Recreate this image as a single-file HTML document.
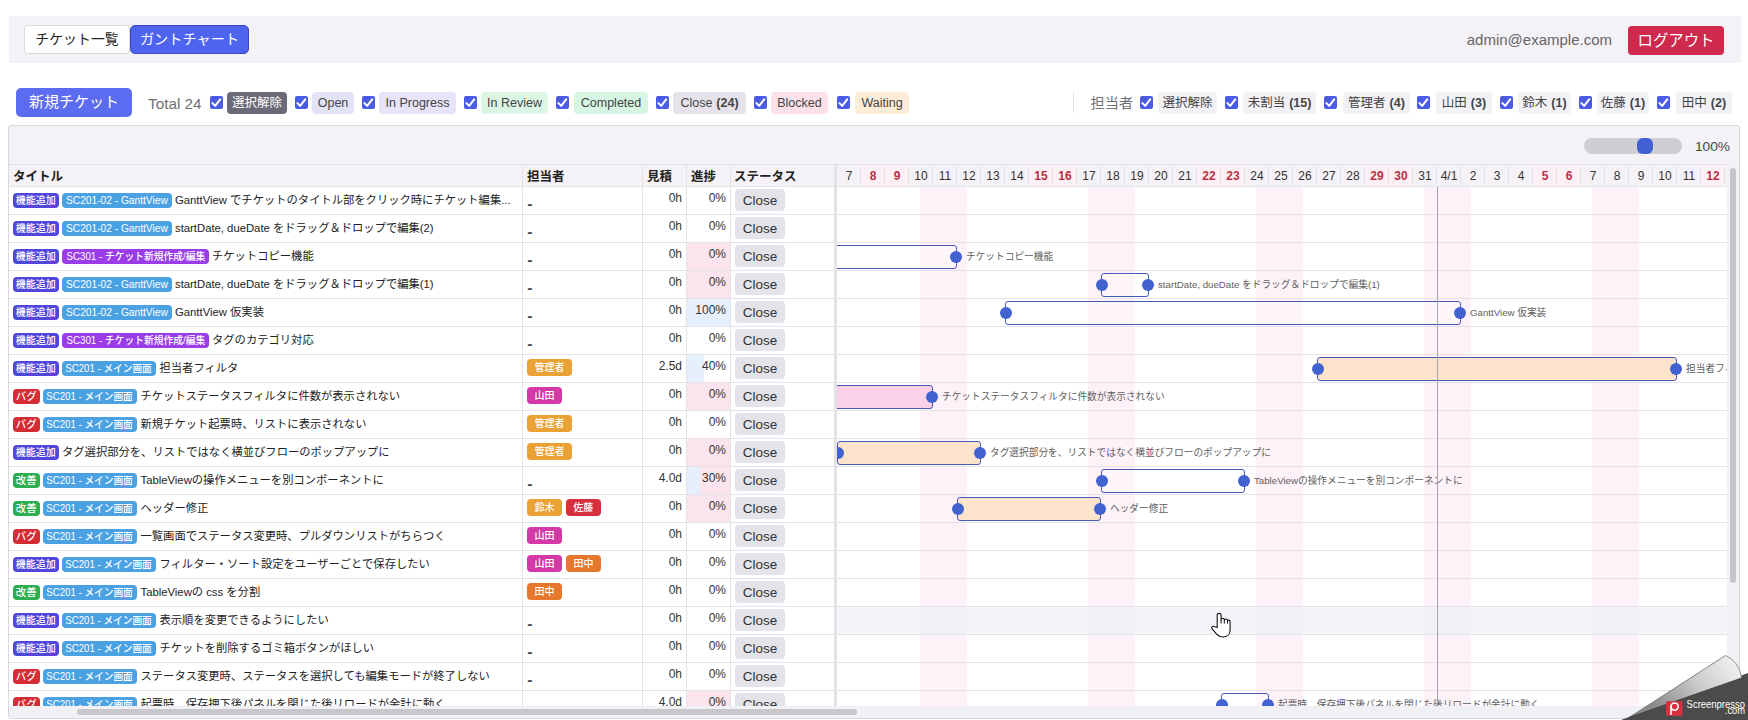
<!DOCTYPE html><html lang="ja"><head><meta charset="utf-8"><title>Gantt</title><style>

*{box-sizing:border-box;margin:0;padding:0}
html,body{width:1748px;height:720px;overflow:hidden;background:#fff;font-family:"Liberation Sans", "Noto Sans CJK JP", sans-serif;color:#333}
.a{position:absolute}
.hdr{left:9px;top:16px;width:1732px;height:47px;background:#f4f2f7}
.btn{position:absolute;display:flex;align-items:center;justify-content:center;white-space:nowrap}
.cb{position:absolute;width:13px;height:13px;background:#4a5ce6;border-radius:2px}
.cb svg{position:absolute;left:0;top:0}
.chip{position:absolute;height:22px;border-radius:4px;font-size:12.5px;display:flex;align-items:center;justify-content:center;white-space:nowrap;color:#444}
.chip b{font-weight:bold;margin-left:4px}
.panel{left:8px;top:125px;width:1732px;height:594px;border:1px solid #d9d8de;border-radius:3px;background:#f4f2f7;overflow:hidden}
.hl{position:absolute;height:1px;background:#e3e2e7}
.vl{position:absolute;width:1px;background:#e3e2e7}
.th{position:absolute;top:167px;font-size:12.5px;font-weight:bold;color:#222;line-height:20px;white-space:nowrap}
.tag{position:absolute;height:15px;border-radius:4px;color:#fff;font-size:10.4px;font-weight:500;line-height:15px;text-align:center;white-space:nowrap;overflow:hidden}
.tag span{display:inline-block}
.atag{position:absolute;height:17px;border-radius:4px;color:#fff;font-size:10px;font-weight:500;line-height:17px;text-align:center;white-space:nowrap}
.ttl{position:absolute;font-size:11.3px;color:#222;line-height:16px;white-space:nowrap}
.num{position:absolute;font-size:12px;color:#333;line-height:14px;text-align:right;white-space:nowrap}
.close{position:absolute;left:735px;width:50px;height:22px;border-radius:4px;background:#e4e3ea;font-size:13.5px;color:#333;line-height:24px;text-align:center}
.day{position:absolute;top:166px;width:24px;text-align:center;font-size:12px;line-height:20px;color:#333}
.we{color:#bc2f45;font-weight:bold}
.bar{position:absolute;height:24px;border:1.5px solid #4759b6;border-radius:3px}
.hd{position:absolute;width:12px;height:12px;border-radius:50%;background:#4262d2}
.lbl{position:absolute;font-size:9.7px;color:#5e5e5e;line-height:14px;white-space:nowrap}

</style></head><body>
<div class="a hdr"></div>
<div class="btn" style="left:24px;top:25px;width:106px;height:29px;background:#fff;border:1px solid #d9d7dd;border-radius:4px;font-size:13.9px;color:#222"><span style="position:relative;top:-1.2px">チケット一覧</span></div>
<div class="btn" style="left:130px;top:25px;width:119px;height:29px;background:#4f64ee;border:1px solid #3747c4;border-radius:5px;font-size:14.2px;color:#fff"><span style="position:relative;top:-1.2px">ガントチャート</span></div>
<div class="a" style="left:1400px;width:212px;top:31px;font-size:15px;line-height:18px;color:#666;text-align:right">admin@example.com</div>
<div class="btn" style="left:1628px;top:26px;width:96px;height:29px;background:#cf2a4d;border-radius:4px;font-size:15.4px;color:#fff"><span style="position:relative;top:-1.6px">ログアウト</span></div>
<div class="btn" style="left:16px;top:88px;width:116px;height:29px;background:#5b6cf0;border-radius:5px;font-size:15px;color:#fff"><span style="position:relative;top:-2.3px">新規チケット</span></div>
<div class="a" style="left:148px;top:94.8px;font-size:15.3px;line-height:17px;color:#6f6f76">Total 24</div>
<div class="cb" style="left:210px;top:96px"><svg width="13" height="13" viewBox="0 0 13 13"><path d="M2.4 7.1 L5.2 9.9 L10.2 3.3" fill="none" stroke="#fff" stroke-width="2" stroke-linecap="round" stroke-linejoin="round"/></svg></div>
<div class="chip" style="left:227px;top:92px;width:60px;background:#6b6a78;color:#fff"><span style="position:relative;top:-1.4px">選択解除</span></div>
<div class="cb" style="left:295px;top:96px"><svg width="13" height="13" viewBox="0 0 13 13"><path d="M2.4 7.1 L5.2 9.9 L10.2 3.3" fill="none" stroke="#fff" stroke-width="2" stroke-linecap="round" stroke-linejoin="round"/></svg></div>
<div class="chip" style="left:312px;top:92px;width:42px;background:#e3e3f7;color:#444">Open</div>
<div class="cb" style="left:362px;top:96px"><svg width="13" height="13" viewBox="0 0 13 13"><path d="M2.4 7.1 L5.2 9.9 L10.2 3.3" fill="none" stroke="#fff" stroke-width="2" stroke-linecap="round" stroke-linejoin="round"/></svg></div>
<div class="chip" style="left:379px;top:92px;width:77px;background:#e7e3f8;color:#444">In Progress</div>
<div class="cb" style="left:464px;top:96px"><svg width="13" height="13" viewBox="0 0 13 13"><path d="M2.4 7.1 L5.2 9.9 L10.2 3.3" fill="none" stroke="#fff" stroke-width="2" stroke-linecap="round" stroke-linejoin="round"/></svg></div>
<div class="chip" style="left:481px;top:92px;width:67px;background:#dcf6e6;color:#444">In Review</div>
<div class="cb" style="left:556px;top:96px"><svg width="13" height="13" viewBox="0 0 13 13"><path d="M2.4 7.1 L5.2 9.9 L10.2 3.3" fill="none" stroke="#fff" stroke-width="2" stroke-linecap="round" stroke-linejoin="round"/></svg></div>
<div class="chip" style="left:574px;top:92px;width:74px;background:#d6f6e3;color:#444">Completed</div>
<div class="cb" style="left:656px;top:96px"><svg width="13" height="13" viewBox="0 0 13 13"><path d="M2.4 7.1 L5.2 9.9 L10.2 3.3" fill="none" stroke="#fff" stroke-width="2" stroke-linecap="round" stroke-linejoin="round"/></svg></div>
<div class="chip" style="left:673px;top:92px;width:73px;background:#e5e3e9;color:#444">Close<b>(24)</b></div>
<div class="cb" style="left:754px;top:96px"><svg width="13" height="13" viewBox="0 0 13 13"><path d="M2.4 7.1 L5.2 9.9 L10.2 3.3" fill="none" stroke="#fff" stroke-width="2" stroke-linecap="round" stroke-linejoin="round"/></svg></div>
<div class="chip" style="left:771px;top:92px;width:57px;background:#fde1e8;color:#444">Blocked</div>
<div class="cb" style="left:837px;top:96px"><svg width="13" height="13" viewBox="0 0 13 13"><path d="M2.4 7.1 L5.2 9.9 L10.2 3.3" fill="none" stroke="#fff" stroke-width="2" stroke-linecap="round" stroke-linejoin="round"/></svg></div>
<div class="chip" style="left:855px;top:92px;width:54px;background:#fdecd8;color:#444">Waiting</div>
<div class="cb" style="left:1140px;top:96px"><svg width="13" height="13" viewBox="0 0 13 13"><path d="M2.4 7.1 L5.2 9.9 L10.2 3.3" fill="none" stroke="#fff" stroke-width="2" stroke-linecap="round" stroke-linejoin="round"/></svg></div>
<div class="chip" style="left:1158px;top:92px;width:59px;background:#f2f1f5;color:#444"><span style="position:relative;top:-1.4px">選択解除</span></div>
<div class="cb" style="left:1225px;top:96px"><svg width="13" height="13" viewBox="0 0 13 13"><path d="M2.4 7.1 L5.2 9.9 L10.2 3.3" fill="none" stroke="#fff" stroke-width="2" stroke-linecap="round" stroke-linejoin="round"/></svg></div>
<div class="chip" style="left:1243px;top:92px;width:73px;background:#f2f1f5;color:#444"><span style="position:relative;top:-1.4px">未割当<b>(15)</b></span></div>
<div class="cb" style="left:1324px;top:96px"><svg width="13" height="13" viewBox="0 0 13 13"><path d="M2.4 7.1 L5.2 9.9 L10.2 3.3" fill="none" stroke="#fff" stroke-width="2" stroke-linecap="round" stroke-linejoin="round"/></svg></div>
<div class="chip" style="left:1343px;top:92px;width:67px;background:#f2f1f5;color:#444"><span style="position:relative;top:-1.4px">管理者<b>(4)</b></span></div>
<div class="cb" style="left:1417px;top:96px"><svg width="13" height="13" viewBox="0 0 13 13"><path d="M2.4 7.1 L5.2 9.9 L10.2 3.3" fill="none" stroke="#fff" stroke-width="2" stroke-linecap="round" stroke-linejoin="round"/></svg></div>
<div class="chip" style="left:1436px;top:92px;width:56px;background:#f2f1f5;color:#444"><span style="position:relative;top:-1.4px">山田<b>(3)</b></span></div>
<div class="cb" style="left:1500px;top:96px"><svg width="13" height="13" viewBox="0 0 13 13"><path d="M2.4 7.1 L5.2 9.9 L10.2 3.3" fill="none" stroke="#fff" stroke-width="2" stroke-linecap="round" stroke-linejoin="round"/></svg></div>
<div class="chip" style="left:1518px;top:92px;width:53px;background:#f2f1f5;color:#444"><span style="position:relative;top:-1.4px">鈴木<b>(1)</b></span></div>
<div class="cb" style="left:1579px;top:96px"><svg width="13" height="13" viewBox="0 0 13 13"><path d="M2.4 7.1 L5.2 9.9 L10.2 3.3" fill="none" stroke="#fff" stroke-width="2" stroke-linecap="round" stroke-linejoin="round"/></svg></div>
<div class="chip" style="left:1597px;top:92px;width:52px;background:#f2f1f5;color:#444"><span style="position:relative;top:-1.4px">佐藤<b>(1)</b></span></div>
<div class="cb" style="left:1657px;top:96px"><svg width="13" height="13" viewBox="0 0 13 13"><path d="M2.4 7.1 L5.2 9.9 L10.2 3.3" fill="none" stroke="#fff" stroke-width="2" stroke-linecap="round" stroke-linejoin="round"/></svg></div>
<div class="chip" style="left:1676px;top:92px;width:56px;background:#f2f1f5;color:#444"><span style="position:relative;top:-1.4px">田中<b>(2)</b></span></div>
<div class="a" style="left:1073px;top:92px;width:1px;height:21px;background:#e2e1e6"></div>
<div class="a" style="left:1090.5px;top:95px;font-size:14.2px;line-height:17px;color:#6f6f76">担当者</div>
<div class="a panel"></div>
<div class="a" style="left:1584px;top:138px;width:98px;height:16px;border-radius:8px;background:#cfced3"></div>
<div class="a" style="left:1637px;top:138px;width:16px;height:16px;border-radius:6px;background:#3f5fd2"></div>
<div class="a" style="left:1695px;top:137.5px;font-size:13.7px;line-height:17px;color:#444">100%</div>
<div class="a" style="left:9px;top:186px;width:1718px;height:520px;background:#fff"></div>
<div class="a" style="left:861px;top:165px;width:24px;height:21px;background:#fcf0f4"></div>
<div class="a" style="left:885px;top:165px;width:24px;height:21px;background:#fcf0f4"></div>
<div class="a" style="left:1029px;top:165px;width:24px;height:21px;background:#fcf0f4"></div>
<div class="a" style="left:1053px;top:165px;width:24px;height:21px;background:#fcf0f4"></div>
<div class="a" style="left:1197px;top:165px;width:24px;height:21px;background:#fcf0f4"></div>
<div class="a" style="left:1221px;top:165px;width:24px;height:21px;background:#fcf0f4"></div>
<div class="a" style="left:1365px;top:165px;width:24px;height:21px;background:#fcf0f4"></div>
<div class="a" style="left:1389px;top:165px;width:24px;height:21px;background:#fcf0f4"></div>
<div class="a" style="left:1533px;top:165px;width:24px;height:21px;background:#fcf0f4"></div>
<div class="a" style="left:1557px;top:165px;width:24px;height:21px;background:#fcf0f4"></div>
<div class="a" style="left:1701px;top:165px;width:24px;height:21px;background:#fcf0f4"></div>
<div class="a" style="left:920px;top:187px;width:47px;height:519px;background:#fdf2f8"></div>
<div class="a" style="left:1088px;top:187px;width:47px;height:519px;background:#fdf2f8"></div>
<div class="a" style="left:1256px;top:187px;width:47px;height:519px;background:#fdf2f8"></div>
<div class="a" style="left:1424px;top:187px;width:47px;height:519px;background:#fdf2f8"></div>
<div class="a" style="left:1592px;top:187px;width:47px;height:519px;background:#fdf2f8"></div>
<div class="a" style="left:837px;top:607px;width:890px;height:27px;background:rgba(236,236,246,0.6)"></div>
<div class="hl" style="left:9px;top:164px;width:1718px;background:#e1e0e5"></div>
<div class="hl" style="left:9px;top:186px;width:1718px"></div>
<div class="hl" style="left:9px;top:214px;width:1718px"></div>
<div class="hl" style="left:9px;top:242px;width:1718px"></div>
<div class="hl" style="left:9px;top:270px;width:1718px"></div>
<div class="hl" style="left:9px;top:298px;width:1718px"></div>
<div class="hl" style="left:9px;top:326px;width:1718px"></div>
<div class="hl" style="left:9px;top:354px;width:1718px"></div>
<div class="hl" style="left:9px;top:382px;width:1718px"></div>
<div class="hl" style="left:9px;top:410px;width:1718px"></div>
<div class="hl" style="left:9px;top:438px;width:1718px"></div>
<div class="hl" style="left:9px;top:466px;width:1718px"></div>
<div class="hl" style="left:9px;top:494px;width:1718px"></div>
<div class="hl" style="left:9px;top:522px;width:1718px"></div>
<div class="hl" style="left:9px;top:550px;width:1718px"></div>
<div class="hl" style="left:9px;top:578px;width:1718px"></div>
<div class="hl" style="left:9px;top:606px;width:1718px"></div>
<div class="hl" style="left:9px;top:634px;width:1718px"></div>
<div class="hl" style="left:9px;top:662px;width:1718px"></div>
<div class="hl" style="left:9px;top:690px;width:1718px"></div>
<div class="vl" style="left:522px;top:164px;height:542px"></div>
<div class="vl" style="left:642px;top:164px;height:542px"></div>
<div class="vl" style="left:686px;top:164px;height:542px"></div>
<div class="vl" style="left:730px;top:164px;height:542px"></div>
<div class="a" style="left:860px;top:167px;width:1px;height:17px;background:#e4e2e8"></div>
<div class="a" style="left:884px;top:167px;width:1px;height:17px;background:#e4e2e8"></div>
<div class="a" style="left:908px;top:167px;width:1px;height:17px;background:#e4e2e8"></div>
<div class="a" style="left:932px;top:167px;width:1px;height:17px;background:#e4e2e8"></div>
<div class="a" style="left:956px;top:167px;width:1px;height:17px;background:#e4e2e8"></div>
<div class="a" style="left:980px;top:167px;width:1px;height:17px;background:#e4e2e8"></div>
<div class="a" style="left:1004px;top:167px;width:1px;height:17px;background:#e4e2e8"></div>
<div class="a" style="left:1028px;top:167px;width:1px;height:17px;background:#e4e2e8"></div>
<div class="a" style="left:1052px;top:167px;width:1px;height:17px;background:#e4e2e8"></div>
<div class="a" style="left:1076px;top:167px;width:1px;height:17px;background:#e4e2e8"></div>
<div class="a" style="left:1100px;top:167px;width:1px;height:17px;background:#e4e2e8"></div>
<div class="a" style="left:1124px;top:167px;width:1px;height:17px;background:#e4e2e8"></div>
<div class="a" style="left:1148px;top:167px;width:1px;height:17px;background:#e4e2e8"></div>
<div class="a" style="left:1172px;top:167px;width:1px;height:17px;background:#e4e2e8"></div>
<div class="a" style="left:1196px;top:167px;width:1px;height:17px;background:#e4e2e8"></div>
<div class="a" style="left:1220px;top:167px;width:1px;height:17px;background:#e4e2e8"></div>
<div class="a" style="left:1244px;top:167px;width:1px;height:17px;background:#e4e2e8"></div>
<div class="a" style="left:1268px;top:167px;width:1px;height:17px;background:#e4e2e8"></div>
<div class="a" style="left:1292px;top:167px;width:1px;height:17px;background:#e4e2e8"></div>
<div class="a" style="left:1316px;top:167px;width:1px;height:17px;background:#e4e2e8"></div>
<div class="a" style="left:1340px;top:167px;width:1px;height:17px;background:#e4e2e8"></div>
<div class="a" style="left:1364px;top:167px;width:1px;height:17px;background:#e4e2e8"></div>
<div class="a" style="left:1388px;top:167px;width:1px;height:17px;background:#e4e2e8"></div>
<div class="a" style="left:1412px;top:167px;width:1px;height:17px;background:#e4e2e8"></div>
<div class="a" style="left:1436px;top:167px;width:1px;height:17px;background:#e4e2e8"></div>
<div class="a" style="left:1460px;top:167px;width:1px;height:17px;background:#e4e2e8"></div>
<div class="a" style="left:1484px;top:167px;width:1px;height:17px;background:#e4e2e8"></div>
<div class="a" style="left:1508px;top:167px;width:1px;height:17px;background:#e4e2e8"></div>
<div class="a" style="left:1532px;top:167px;width:1px;height:17px;background:#e4e2e8"></div>
<div class="a" style="left:1556px;top:167px;width:1px;height:17px;background:#e4e2e8"></div>
<div class="a" style="left:1580px;top:167px;width:1px;height:17px;background:#e4e2e8"></div>
<div class="a" style="left:1604px;top:167px;width:1px;height:17px;background:#e4e2e8"></div>
<div class="a" style="left:1628px;top:167px;width:1px;height:17px;background:#e4e2e8"></div>
<div class="a" style="left:1652px;top:167px;width:1px;height:17px;background:#e4e2e8"></div>
<div class="a" style="left:1676px;top:167px;width:1px;height:17px;background:#e4e2e8"></div>
<div class="a" style="left:1700px;top:167px;width:1px;height:17px;background:#e4e2e8"></div>
<div class="a" style="left:1724px;top:167px;width:1px;height:17px;background:#e4e2e8"></div>
<div class="th" style="left:13px">タイトル</div>
<div class="th" style="left:527px">担当者</div>
<div class="th" style="left:647px">見積</div>
<div class="th" style="left:691px">進捗</div>
<div class="th" style="left:734px">ステータス</div>
<div class="day" style="left:837px">7</div>
<div class="day we" style="left:861px">8</div>
<div class="day we" style="left:885px">9</div>
<div class="day" style="left:909px">10</div>
<div class="day" style="left:933px">11</div>
<div class="day" style="left:957px">12</div>
<div class="day" style="left:981px">13</div>
<div class="day" style="left:1005px">14</div>
<div class="day we" style="left:1029px">15</div>
<div class="day we" style="left:1053px">16</div>
<div class="day" style="left:1077px">17</div>
<div class="day" style="left:1101px">18</div>
<div class="day" style="left:1125px">19</div>
<div class="day" style="left:1149px">20</div>
<div class="day" style="left:1173px">21</div>
<div class="day we" style="left:1197px">22</div>
<div class="day we" style="left:1221px">23</div>
<div class="day" style="left:1245px">24</div>
<div class="day" style="left:1269px">25</div>
<div class="day" style="left:1293px">26</div>
<div class="day" style="left:1317px">27</div>
<div class="day" style="left:1341px">28</div>
<div class="day we" style="left:1365px">29</div>
<div class="day we" style="left:1389px">30</div>
<div class="day" style="left:1413px">31</div>
<div class="day" style="left:1437px">4/1</div>
<div class="day" style="left:1461px">2</div>
<div class="day" style="left:1485px">3</div>
<div class="day" style="left:1509px">4</div>
<div class="day we" style="left:1533px">5</div>
<div class="day we" style="left:1557px">6</div>
<div class="day" style="left:1581px">7</div>
<div class="day" style="left:1605px">8</div>
<div class="day" style="left:1629px">9</div>
<div class="day" style="left:1653px">10</div>
<div class="day" style="left:1677px">11</div>
<div class="day we" style="left:1701px">12</div>
<div class="tag" style="left:13.0px;top:193px;width:45.5px;background:#4f47dc"><span style="transform:scaleX(0.96)">機能追加</span></div>
<div class="tag" style="left:61.5px;top:193px;width:110.0px;background:#4ba2e3"><span style="transform:scaleX(0.98)">SC201-02 - GanttView</span></div>
<div class="ttl" style="left:175.0px;top:192px">GanttView でチケットのタイトル部をクリック時にチケット編集...</div>
<div class="a" style="left:527.3px;top:196.5px;font-size:15.5px;font-weight:bold;line-height:14px;color:#444">-</div>
<div class="num" style="left:642px;width:40px;top:191px">0h</div>
<div class="num" style="left:686px;width:40px;top:191px">0%</div>
<div class="close" style="top:189px">Close</div>
<div class="tag" style="left:13.0px;top:221px;width:45.5px;background:#4f47dc"><span style="transform:scaleX(0.96)">機能追加</span></div>
<div class="tag" style="left:61.5px;top:221px;width:110.0px;background:#4ba2e3"><span style="transform:scaleX(0.98)">SC201-02 - GanttView</span></div>
<div class="ttl" style="left:175.0px;top:220px">startDate, dueDate をドラッグ＆ドロップで編集(2)</div>
<div class="a" style="left:527.3px;top:224.5px;font-size:15.5px;font-weight:bold;line-height:14px;color:#444">-</div>
<div class="num" style="left:642px;width:40px;top:219px">0h</div>
<div class="num" style="left:686px;width:40px;top:219px">0%</div>
<div class="close" style="top:217px">Close</div>
<div class="a" style="left:687px;top:243px;width:43px;height:27px;background:#fce4ef"></div>
<div class="tag" style="left:13.0px;top:249px;width:45.5px;background:#4f47dc"><span style="transform:scaleX(0.96)">機能追加</span></div>
<div class="tag" style="left:61.5px;top:249px;width:147.0px;background:#9a3ce8"><span style="transform:scaleX(0.94)">SC301 - チケット新規作成/編集</span></div>
<div class="ttl" style="left:212.0px;top:248px">チケットコピー機能</div>
<div class="a" style="left:527.3px;top:252.5px;font-size:15.5px;font-weight:bold;line-height:14px;color:#444">-</div>
<div class="num" style="left:642px;width:40px;top:247px">0h</div>
<div class="num" style="left:686px;width:40px;top:247px">0%</div>
<div class="close" style="top:245px">Close</div>
<div class="a" style="left:687px;top:271px;width:43px;height:27px;background:#fce4ef"></div>
<div class="tag" style="left:13.0px;top:277px;width:45.5px;background:#4f47dc"><span style="transform:scaleX(0.96)">機能追加</span></div>
<div class="tag" style="left:61.5px;top:277px;width:110.0px;background:#4ba2e3"><span style="transform:scaleX(0.98)">SC201-02 - GanttView</span></div>
<div class="ttl" style="left:175.0px;top:276px">startDate, dueDate をドラッグ＆ドロップで編集(1)</div>
<div class="a" style="left:527.3px;top:280.5px;font-size:15.5px;font-weight:bold;line-height:14px;color:#444">-</div>
<div class="num" style="left:642px;width:40px;top:275px">0h</div>
<div class="num" style="left:686px;width:40px;top:275px">0%</div>
<div class="close" style="top:273px">Close</div>
<div class="a" style="left:687px;top:299px;width:43px;height:27px;background:#e6effc"></div>
<div class="tag" style="left:13.0px;top:305px;width:45.5px;background:#4f47dc"><span style="transform:scaleX(0.96)">機能追加</span></div>
<div class="tag" style="left:61.5px;top:305px;width:110.0px;background:#4ba2e3"><span style="transform:scaleX(0.98)">SC201-02 - GanttView</span></div>
<div class="ttl" style="left:175.0px;top:304px">GanttView 仮実装</div>
<div class="a" style="left:527.3px;top:308.5px;font-size:15.5px;font-weight:bold;line-height:14px;color:#444">-</div>
<div class="num" style="left:642px;width:40px;top:303px">0h</div>
<div class="num" style="left:686px;width:40px;top:303px">100%</div>
<div class="close" style="top:301px">Close</div>
<div class="tag" style="left:13.0px;top:333px;width:45.5px;background:#4f47dc"><span style="transform:scaleX(0.96)">機能追加</span></div>
<div class="tag" style="left:61.5px;top:333px;width:147.0px;background:#9a3ce8"><span style="transform:scaleX(0.94)">SC301 - チケット新規作成/編集</span></div>
<div class="ttl" style="left:212.0px;top:332px">タグのカテゴリ対応</div>
<div class="a" style="left:527.3px;top:336.5px;font-size:15.5px;font-weight:bold;line-height:14px;color:#444">-</div>
<div class="num" style="left:642px;width:40px;top:331px">0h</div>
<div class="num" style="left:686px;width:40px;top:331px">0%</div>
<div class="close" style="top:329px">Close</div>
<div class="a" style="left:687px;top:355px;width:17px;height:27px;background:#e6effc"></div>
<div class="tag" style="left:13.0px;top:361px;width:45.5px;background:#4f47dc"><span style="transform:scaleX(0.96)">機能追加</span></div>
<div class="tag" style="left:61.5px;top:361px;width:94.5px;background:#4ba2e3"><span style="transform:scaleX(0.93)">SC201 - メイン画面</span></div>
<div class="ttl" style="left:159.5px;top:360px">担当者フィルタ</div>
<div class="atag" style="left:527.0px;top:359px;width:45.0px;background:#e9a233">管理者</div>
<div class="num" style="left:642px;width:40px;top:359px">2.5d</div>
<div class="num" style="left:686px;width:40px;top:359px">40%</div>
<div class="close" style="top:357px">Close</div>
<div class="a" style="left:687px;top:383px;width:43px;height:27px;background:#fce4ef"></div>
<div class="tag" style="left:13.0px;top:389px;width:26.5px;background:#d42d35"><span style="transform:scaleX(1.00)">バグ</span></div>
<div class="tag" style="left:42.5px;top:389px;width:94.5px;background:#4ba2e3"><span style="transform:scaleX(0.93)">SC201 - メイン画面</span></div>
<div class="ttl" style="left:140.5px;top:388px">チケットステータスフィルタに件数が表示されない</div>
<div class="atag" style="left:527.0px;top:387px;width:35.0px;background:#d33aa8">山田</div>
<div class="num" style="left:642px;width:40px;top:387px">0h</div>
<div class="num" style="left:686px;width:40px;top:387px">0%</div>
<div class="close" style="top:385px">Close</div>
<div class="tag" style="left:13.0px;top:417px;width:26.5px;background:#d42d35"><span style="transform:scaleX(1.00)">バグ</span></div>
<div class="tag" style="left:42.5px;top:417px;width:94.5px;background:#4ba2e3"><span style="transform:scaleX(0.93)">SC201 - メイン画面</span></div>
<div class="ttl" style="left:140.5px;top:416px">新規チケット起票時、リストに表示されない</div>
<div class="atag" style="left:527.0px;top:415px;width:45.0px;background:#e9a233">管理者</div>
<div class="num" style="left:642px;width:40px;top:415px">0h</div>
<div class="num" style="left:686px;width:40px;top:415px">0%</div>
<div class="close" style="top:413px">Close</div>
<div class="a" style="left:687px;top:439px;width:43px;height:27px;background:#fce4ef"></div>
<div class="tag" style="left:13.0px;top:445px;width:45.5px;background:#4f47dc"><span style="transform:scaleX(0.96)">機能追加</span></div>
<div class="ttl" style="left:62.0px;top:444px">タグ選択部分を、リストではなく横並びフローのポップアップに</div>
<div class="atag" style="left:527.0px;top:443px;width:45.0px;background:#e9a233">管理者</div>
<div class="num" style="left:642px;width:40px;top:443px">0h</div>
<div class="num" style="left:686px;width:40px;top:443px">0%</div>
<div class="close" style="top:441px">Close</div>
<div class="a" style="left:687px;top:467px;width:43px;height:27px;background:#fce4ef"></div>
<div class="a" style="left:687px;top:467px;width:13px;height:27px;background:#e6effc"></div>
<div class="tag" style="left:13.0px;top:473px;width:26.5px;background:#2aae4f"><span style="transform:scaleX(1.00)">改善</span></div>
<div class="tag" style="left:42.5px;top:473px;width:94.5px;background:#4ba2e3"><span style="transform:scaleX(0.93)">SC201 - メイン画面</span></div>
<div class="ttl" style="left:140.5px;top:472px">TableViewの操作メニューを別コンポーネントに</div>
<div class="a" style="left:527.3px;top:476.5px;font-size:15.5px;font-weight:bold;line-height:14px;color:#444">-</div>
<div class="num" style="left:642px;width:40px;top:471px">4.0d</div>
<div class="num" style="left:686px;width:40px;top:471px">30%</div>
<div class="close" style="top:469px">Close</div>
<div class="a" style="left:687px;top:495px;width:43px;height:27px;background:#fce4ef"></div>
<div class="tag" style="left:13.0px;top:501px;width:26.5px;background:#2aae4f"><span style="transform:scaleX(1.00)">改善</span></div>
<div class="tag" style="left:42.5px;top:501px;width:94.5px;background:#4ba2e3"><span style="transform:scaleX(0.93)">SC201 - メイン画面</span></div>
<div class="ttl" style="left:140.5px;top:500px">ヘッダー修正</div>
<div class="atag" style="left:527.0px;top:499px;width:35.0px;background:#e9a233">鈴木</div>
<div class="atag" style="left:566.0px;top:499px;width:34.5px;background:#d7303f">佐藤</div>
<div class="num" style="left:642px;width:40px;top:499px">0h</div>
<div class="num" style="left:686px;width:40px;top:499px">0%</div>
<div class="close" style="top:497px">Close</div>
<div class="tag" style="left:13.0px;top:529px;width:26.5px;background:#d42d35"><span style="transform:scaleX(1.00)">バグ</span></div>
<div class="tag" style="left:42.5px;top:529px;width:94.5px;background:#4ba2e3"><span style="transform:scaleX(0.93)">SC201 - メイン画面</span></div>
<div class="ttl" style="left:140.5px;top:528px">一覧画面でステータス変更時、プルダウンリストがちらつく</div>
<div class="atag" style="left:527.0px;top:527px;width:35.0px;background:#d33aa8">山田</div>
<div class="num" style="left:642px;width:40px;top:527px">0h</div>
<div class="num" style="left:686px;width:40px;top:527px">0%</div>
<div class="close" style="top:525px">Close</div>
<div class="tag" style="left:13.0px;top:557px;width:45.5px;background:#4f47dc"><span style="transform:scaleX(0.96)">機能追加</span></div>
<div class="tag" style="left:61.5px;top:557px;width:94.5px;background:#4ba2e3"><span style="transform:scaleX(0.93)">SC201 - メイン画面</span></div>
<div class="ttl" style="left:159.5px;top:556px">フィルター・ソート設定をユーザーごとで保存したい</div>
<div class="atag" style="left:527.0px;top:555px;width:35.0px;background:#d33aa8">山田</div>
<div class="atag" style="left:566.0px;top:555px;width:35.0px;background:#e5782c">田中</div>
<div class="num" style="left:642px;width:40px;top:555px">0h</div>
<div class="num" style="left:686px;width:40px;top:555px">0%</div>
<div class="close" style="top:553px">Close</div>
<div class="tag" style="left:13.0px;top:585px;width:26.5px;background:#2aae4f"><span style="transform:scaleX(1.00)">改善</span></div>
<div class="tag" style="left:42.5px;top:585px;width:94.5px;background:#4ba2e3"><span style="transform:scaleX(0.93)">SC201 - メイン画面</span></div>
<div class="ttl" style="left:140.5px;top:584px">TableViewの css を分割</div>
<div class="atag" style="left:527.0px;top:583px;width:35.0px;background:#e5782c">田中</div>
<div class="num" style="left:642px;width:40px;top:583px">0h</div>
<div class="num" style="left:686px;width:40px;top:583px">0%</div>
<div class="close" style="top:581px">Close</div>
<div class="tag" style="left:13.0px;top:613px;width:45.5px;background:#4f47dc"><span style="transform:scaleX(0.96)">機能追加</span></div>
<div class="tag" style="left:61.5px;top:613px;width:94.5px;background:#4ba2e3"><span style="transform:scaleX(0.93)">SC201 - メイン画面</span></div>
<div class="ttl" style="left:159.5px;top:612px">表示順を変更できるようにしたい</div>
<div class="a" style="left:527.3px;top:616.5px;font-size:15.5px;font-weight:bold;line-height:14px;color:#444">-</div>
<div class="num" style="left:642px;width:40px;top:611px">0h</div>
<div class="num" style="left:686px;width:40px;top:611px">0%</div>
<div class="close" style="top:609px">Close</div>
<div class="tag" style="left:13.0px;top:641px;width:45.5px;background:#4f47dc"><span style="transform:scaleX(0.96)">機能追加</span></div>
<div class="tag" style="left:61.5px;top:641px;width:94.5px;background:#4ba2e3"><span style="transform:scaleX(0.93)">SC201 - メイン画面</span></div>
<div class="ttl" style="left:159.5px;top:640px">チケットを削除するゴミ箱ボタンがほしい</div>
<div class="a" style="left:527.3px;top:644.5px;font-size:15.5px;font-weight:bold;line-height:14px;color:#444">-</div>
<div class="num" style="left:642px;width:40px;top:639px">0h</div>
<div class="num" style="left:686px;width:40px;top:639px">0%</div>
<div class="close" style="top:637px">Close</div>
<div class="tag" style="left:13.0px;top:669px;width:26.5px;background:#d42d35"><span style="transform:scaleX(1.00)">バグ</span></div>
<div class="tag" style="left:42.5px;top:669px;width:94.5px;background:#4ba2e3"><span style="transform:scaleX(0.93)">SC201 - メイン画面</span></div>
<div class="ttl" style="left:140.5px;top:668px">ステータス変更時、ステータスを選択しても編集モードが終了しない</div>
<div class="a" style="left:527.3px;top:672.5px;font-size:15.5px;font-weight:bold;line-height:14px;color:#444">-</div>
<div class="num" style="left:642px;width:40px;top:667px">0h</div>
<div class="num" style="left:686px;width:40px;top:667px">0%</div>
<div class="close" style="top:665px">Close</div>
<div class="a" style="left:687px;top:691px;width:43px;height:27px;background:#fce4ef"></div>
<div class="tag" style="left:13.0px;top:697px;width:26.5px;background:#d42d35"><span style="transform:scaleX(1.00)">バグ</span></div>
<div class="tag" style="left:42.5px;top:697px;width:94.5px;background:#4ba2e3"><span style="transform:scaleX(0.93)">SC201 - メイン画面</span></div>
<div class="ttl" style="left:140.5px;top:696px">起票時、保存押下後パネルを閉じた後リロードが余計に動く</div>
<div class="a" style="left:527.3px;top:700.5px;font-size:15.5px;font-weight:bold;line-height:14px;color:#444">-</div>
<div class="num" style="left:642px;width:40px;top:695px">4.0d</div>
<div class="num" style="left:686px;width:40px;top:695px">0%</div>
<div class="close" style="top:693px">Close</div>
<div class="a" style="left:834px;top:164px;width:3px;height:542px;background:#e3e2e7"></div>
<div class="a" style="left:837px;top:186px;width:890px;height:520px;overflow:hidden">
<div class="bar" style="left:-37px;top:59px;width:156.5px;background:rgba(255,255,255,0.35)"></div>
<div class="hd" style="left:113.2px;top:65.0px"></div>
<div class="lbl" style="left:129px;top:63.5px">チケットコピー機能</div>
<div class="bar" style="left:264px;top:87px;width:47.5px;background:rgba(255,255,255,0.35)"></div>
<div class="hd" style="left:258.8px;top:93.0px"></div>
<div class="hd" style="left:305.2px;top:93.0px"></div>
<div class="lbl" style="left:321px;top:91.5px">startDate, dueDate をドラッグ＆ドロップで編集(1)</div>
<div class="bar" style="left:168px;top:115px;width:455.5px;background:rgba(255,255,255,0.35)"></div>
<div class="hd" style="left:162.8px;top:121.0px"></div>
<div class="hd" style="left:617.2px;top:121.0px"></div>
<div class="lbl" style="left:633px;top:119.5px">GanttView 仮実装</div>
<div class="bar" style="left:480px;top:171px;width:359.5px;background:#fbe4cb"></div>
<div class="hd" style="left:474.8px;top:177.0px"></div>
<div class="hd" style="left:833.2px;top:177.0px"></div>
<div class="lbl" style="left:849px;top:175.5px">担当者フィルタ</div>
<div class="bar" style="left:-37px;top:199px;width:132.5px;background:#f9d1e8"></div>
<div class="hd" style="left:89.2px;top:205.0px"></div>
<div class="lbl" style="left:105px;top:203.5px">チケットステータスフィルタに件数が表示されない</div>
<div class="bar" style="left:0px;top:255px;width:143.5px;background:#fbe4cb"></div>
<div class="hd" style="left:-5.2px;top:261.0px"></div>
<div class="hd" style="left:137.2px;top:261.0px"></div>
<div class="lbl" style="left:153px;top:259.5px">タグ選択部分を、リストではなく横並びフローのポップアップに</div>
<div class="bar" style="left:264px;top:283px;width:143.5px;background:rgba(255,255,255,0.35)"></div>
<div class="hd" style="left:258.8px;top:289.0px"></div>
<div class="hd" style="left:401.2px;top:289.0px"></div>
<div class="lbl" style="left:417px;top:287.5px">TableViewの操作メニューを別コンポーネントに</div>
<div class="bar" style="left:120px;top:311px;width:143.5px;background:#fbe4cb"></div>
<div class="hd" style="left:114.8px;top:317.0px"></div>
<div class="hd" style="left:257.2px;top:317.0px"></div>
<div class="lbl" style="left:273px;top:315.5px">ヘッダー修正</div>
<div class="bar" style="left:384px;top:507px;width:47.5px;background:rgba(255,255,255,0.35)"></div>
<div class="hd" style="left:378.8px;top:513.0px"></div>
<div class="hd" style="left:425.2px;top:513.0px"></div>
<div class="lbl" style="left:441px;top:511.5px">起票時、保存押下後パネルを閉じた後リロードが余計に動く</div>
</div>
<div class="a" style="left:1437px;top:187px;width:1px;height:519px;background:#a8a6ad"></div>
<div class="a" style="left:1727px;top:165px;width:12px;height:541px;background:#f1f0f4"></div>
<div class="a" style="left:1730px;top:168px;width:6px;height:415px;border-radius:3px;background:#c5c4c9"></div>
<div class="a" style="left:9px;top:706px;width:1730px;height:12px;background:#f1f0f4"></div>
<div class="a" style="left:77px;top:709px;width:780px;height:6px;border-radius:3px;background:#c8c7cc"></div>
<svg class="a" style="left:1200px;top:605px" width="45" height="40" viewBox="0 0 45 40"><path d="M17.2,22.6 V10.3 a1.95,1.95 0 0 1 3.9,0 V14.9 a1.6,1.6 0 0 1 3.2,0 V15.6 a1.6,1.6 0 0 1 3.2,0 V16.4 a1.3,1.3 0 0 1 2.6,0 V25 C30.1,29.5 27,32 23,32 C20,32 18,30.5 16.2,28.6 L12.4,24.1 a1.5,1.5 0 0 1 1.5,-2.6 Z" fill="#fff" stroke="#111" stroke-width="1.1" stroke-linejoin="round"/><path d="M21.1,14.9 V18.6 M24.3,15.6 V18.6 M27.5,16.4 V18.6" stroke="#111" stroke-width="1" fill="none"/></svg>
<svg class="a" style="left:1600px;top:640px" width="148" height="80" viewBox="0 0 148 80"><defs><linearGradient id="cg" x1="128" y1="20" x2="60" y2="72" gradientUnits="userSpaceOnUse"><stop offset="0" stop-color="#ececec"/><stop offset="0.45" stop-color="#cbcbcb"/><stop offset="1" stop-color="#8a8a8a"/></linearGradient><linearGradient id="sh" x1="0" y1="0" x2="1" y2="0"><stop offset="0" stop-color="#e8e8ea" stop-opacity="0"/><stop offset="1" stop-color="#d8d8dc"/></linearGradient></defs><polygon points="21,80 148,80 148,33" fill="#4b4b4b"/><path d="M125.5,15.5 Q139,21 141.5,38 L29,77.5 Z" fill="url(#cg)"/><path d="M125.5,15.5 L29,77.5" stroke="#6a6a6a" stroke-width="0.8" fill="none"/><path d="M125.5,15.5 Q139,21 141.5,38" stroke="#8a8a8a" stroke-width="0.9" fill="none"/><path d="M141.5,38 L29,77.5" stroke="#3a3a3a" stroke-width="0.8" fill="none"/><rect x="66" y="61.3" width="16.4" height="14.5" fill="#d8303c"/><circle cx="74.6" cy="66.6" r="3.6" fill="none" stroke="#fff" stroke-width="1.6"/><path d="M71,66 V75" stroke="#fff" stroke-width="1.6"/><text x="145" y="67.6" text-anchor="end" textLength="58.4" lengthAdjust="spacingAndGlyphs" font-family="Liberation Sans, sans-serif" font-size="10.2" fill="#fff">Screenpresso</text><text x="145" y="73.8" text-anchor="end" textLength="20.2" lengthAdjust="spacingAndGlyphs" font-family="Liberation Sans, sans-serif" font-size="10.2" fill="#fff">.com</text></svg>
</body></html>
